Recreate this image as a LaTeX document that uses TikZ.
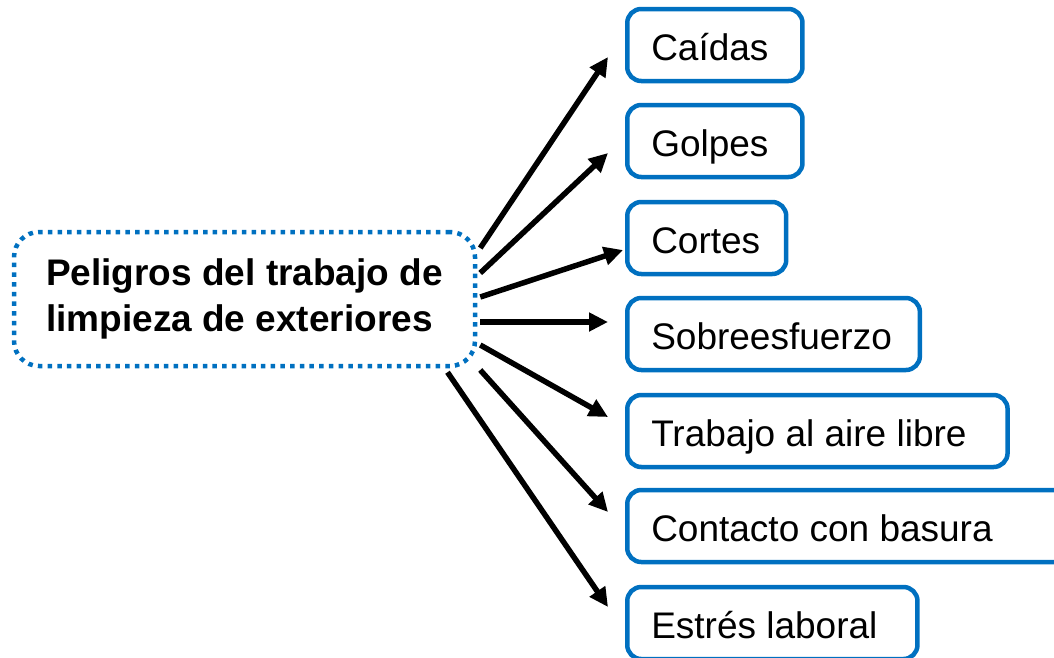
\documentclass[tikz,border=0pt]{standalone}
\usepackage{fontspec}
\setmainfont{Liberation Sans}
\usetikzlibrary{arrows.meta}
\definecolor{myblue}{HTML}{0070C0}
\begin{document}
\begin{tikzpicture}[x=1pt,y=-1pt,
  rbox/.style={draw=myblue, line width=4.5pt, rounded corners=14pt, minimum height=72pt,
    anchor=west, inner xsep=24pt, inner ysep=0pt, text height=30pt, text depth=0pt,
    font=\fontsize{37}{44}\selectfont, execute at end node={\hspace*{#1}}},
  rbox/.default=10pt,
  mainbox/.style={draw=myblue, line width=4.5pt, dash pattern=on 4.5pt off 5.2pt,
    rounded corners=25pt, minimum width=461pt, minimum height=134pt, align=left,
    inner sep=0pt, font=\fontsize{37}{46}\selectfont\bfseries},
  arr/.style={line width=5.5pt, -{Triangle[length=19pt,width=18pt]}}]
\useasboundingbox (0,0) rectangle (1054,657);
\node[mainbox] (c) at (244.5,299) {Peligros del trabajo de\\limpieza de exteriores};
\node[rbox] (caidas) at (625,45) {Caídas};
\node[rbox] (golpes) at (625,141) {Golpes};
\node[rbox=2pt] (cortes) at (625,238) {Cortes};
\node[rbox=4pt] (sobre) at (625,334) {Sobreesfuerzo};
\node[rbox=17pt] (aire) at (625,431) {Trabajo al aire libre};
\node[rbox=70pt] (basura) at (625,526) {Contacto con basura};
\node[rbox=16pt] (estres) at (625,623) {Estrés laboral};
\draw[arr] ([xshift=3pt,yshift=51pt]c.east) -- ([xshift=-17pt,yshift=-12pt]caidas.west);
\draw[arr] ([xshift=3pt,yshift=26pt]c.east) -- ([xshift=-17pt,yshift=-12pt]golpes.west);
\draw[arr] ([xshift=3pt,yshift=2pt]c.east) -- ([xshift=-2pt,yshift=-12pt]cortes.west);
\draw[arr] ([xshift=3pt,yshift=-23pt]c.east) -- ([xshift=-17pt,yshift=12pt]sobre.west);
\draw[arr] ([xshift=3pt,yshift=-46pt]c.east) -- ([xshift=-17pt,yshift=14pt]aire.west);
\draw[arr] ([xshift=3pt,yshift=-71pt]c.east) -- ([xshift=-17pt,yshift=14pt]basura.west);
\draw[arr] ([xshift=203pt,yshift=-4pt]c.south) -- ([xshift=-17pt,yshift=16pt]estres.west);
\end{tikzpicture}
\end{document}
